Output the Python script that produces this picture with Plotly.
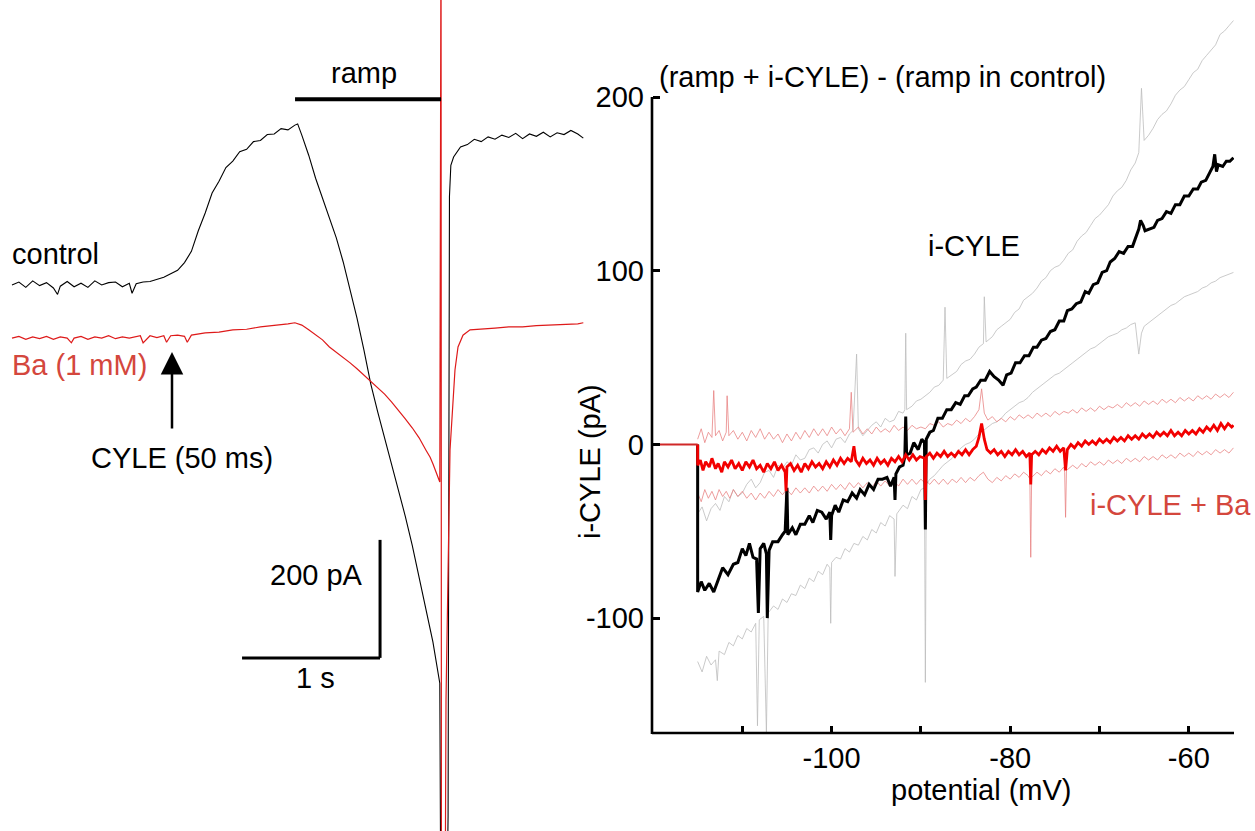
import plotly.graph_objects as go

W, H = 1255, 831
FONT = "Liberation Sans, Arial, Helvetica, sans-serif"
FS = 29
SALMON = "#d4473d"

# ---------------- left panel: membrane current traces (time s, current pA) ----------------
CONTROL_T = [0.00, 0.05, 0.10, 0.15, 0.20, 0.25, 0.30, 0.33, 0.35, 0.40, 0.45, 0.50, 0.55, 0.60,
             0.65, 0.70, 0.75, 0.80, 0.85, 0.87, 0.90, 0.95, 1.00, 1.05, 1.10, 1.15, 1.20, 1.25,
             1.30, 1.35, 1.40, 1.45, 1.50, 1.55, 1.60, 1.65, 1.70, 1.75, 1.80, 1.85, 1.90, 1.95,
             2.00, 2.05, 2.07, 2.10, 2.15, 2.20, 2.25, 2.30, 2.35, 2.40, 2.45, 2.50, 2.55, 2.60,
             2.65, 2.70, 2.75, 2.80, 2.85, 2.90, 2.95, 3.00, 3.05, 3.10, 3.11, 3.155, 3.16, 3.17,
             3.18, 3.20, 3.25, 3.30, 3.35, 3.40, 3.45, 3.50, 3.55, 3.60, 3.65, 3.70, 3.75, 3.80,
             3.85, 3.90, 3.95, 4.00, 4.05, 4.10, 4.14]
CONTROL_I = [0, 5, -4, 7, -1, 4, -5, -16, -2, 6, -3, 3, -4, 7,
             0, 4, 5, -3, 3, -14, 2, 5, 6, 10, 13, 19, 25, 38,
             57, 92, 122, 156, 176, 199, 210, 226, 230, 243, 245, 255, 256, 265,
             263, 271, 273, 254, 220, 181, 147, 115, 80, 39, -8, -56, -110, -168,
             -215, -259, -303, -347, -392, -441, -497, -547, -605, -675, -1200, -1000, -900, 150,
             203, 217, 234, 238, 247, 243, 251, 247, 254, 250, 257, 248, 256, 252,
             259, 251, 258, 255, 262, 256, 249]

BA_T = [0.00, 0.05, 0.10, 0.15, 0.20, 0.25, 0.30, 0.35, 0.40, 0.43, 0.45, 0.50, 0.55, 0.60,
        0.65, 0.70, 0.75, 0.80, 0.85, 0.93, 0.95, 1.00, 1.05, 1.10, 1.12, 1.15, 1.20, 1.25,
        1.27, 1.30, 1.40, 1.50, 1.60, 1.70, 1.80, 1.90, 2.00, 2.05, 2.10, 2.15, 2.20, 2.25,
        2.30, 2.35, 2.40, 2.45, 2.50, 2.55, 2.60, 2.65, 2.70, 2.75, 2.80, 2.85, 2.90, 2.95,
        3.00, 3.03, 3.05, 3.08, 3.10, 3.109, 3.112, 3.138, 3.145, 3.174, 3.21, 3.232, 3.268,
        3.319, 3.40, 3.50, 3.60, 3.70, 3.80, 3.90, 4.00, 4.10, 4.14]
BA_I = [-90, -87, -92, -88, -91, -87, -92, -88, -90, -98, -90, -87, -92, -88,
        -90, -86, -91, -88, -90, -86, -98, -86, -89, -86, -97, -86, -85, -87,
        -97, -85, -81, -80, -76, -75, -71, -69, -66, -64, -68, -76, -85, -93,
        -105, -114, -122, -132, -142, -153, -163, -175, -185, -198, -212, -227, -242, -259,
        -280, -292, -303, -320, -334, 650, -1100, -1100, -703, -280, -144, -105, -85,
        -76, -75, -73, -71, -71, -69, -68, -68, -66, -64]

# ---------------- right panel: I-V relations (potential mV, current pA) ----------------
POT_TICKS = [-110, -100, -90, -80, -70, -60]
POT_TICK_LABELS = ["", "-100", "", "-80", "", "-60"]
CUR_TICKS = [-100, 0, 100, 200]
CUR_TICK_LABELS = ["-100", "0", "100", "200"]

HOLD = [(-120.0, 0), (-115.0, 0)]

ICYLE_MEAN = [
    (-115.0, 0), (-115.0, -85), (-114.6, -79), (-114.2, -84), (-113.7, -80), (-113.2, -85),
    (-112.7, -78), (-112.2, -71), (-111.6, -75), (-111.0, -69), (-110.5, -68), (-110.0, -60),
    (-109.6, -64), (-109.2, -57), (-108.8, -65), (-108.4, -66), (-108.2, -97), (-108.0, -60),
    (-107.6, -57), (-107.3, -63), (-107.2, -100), (-107.0, -61), (-106.6, -56), (-106.0, -56),
    (-105.5, -52), (-105.2, -50), (-105.0, -25), (-104.9, -52), (-104.4, -48), (-104.0, -52),
    (-103.5, -46), (-103.0, -46), (-102.5, -41), (-102.1, -45), (-101.6, -38), (-101.1, -39),
    (-100.6, -43), (-100.2, -39), (-100.1, -55), (-100.0, -41), (-99.6, -35), (-99.2, -39),
    (-98.7, -32), (-98.2, -33), (-97.7, -28), (-97.2, -31), (-96.8, -26), (-96.3, -29),
    (-95.8, -23), (-95.3, -26), (-94.8, -20), (-94.3, -20), (-93.8, -19), (-93.4, -24),
    (-93.0, -19), (-92.9, -32), (-92.8, -17), (-92.4, -13), (-92.0, -12), (-91.8, -7),
    (-91.7, 16), (-91.6, -6), (-91.2, -5), (-90.8, 1), (-90.3, -3), (-89.9, 3), (-89.6, 1),
    (-89.5, -49), (-89.4, 3), (-89.0, 7), (-88.6, 8), (-88.1, 15), (-87.6, 15), (-87.1, 20),
    (-86.6, 20), (-86.1, 24), (-85.6, 23), (-85.1, 28), (-84.7, 28), (-84.2, 32), (-83.8, 33),
    (-83.3, 37), (-82.8, 37), (-82.3, 42), (-81.8, 39), (-81.3, 37), (-80.8, 34), (-80.4, 40),
    (-79.9, 41), (-79.4, 47), (-78.9, 47), (-78.4, 51), (-77.9, 51), (-77.4, 56), (-77.0, 56),
    (-76.5, 60), (-76.0, 61), (-75.5, 65), (-75.0, 66), (-74.5, 71), (-74.0, 71), (-73.6, 77),
    (-73.1, 78), (-72.6, 81), (-72.1, 82), (-71.6, 88), (-71.2, 87), (-70.7, 92), (-70.2, 93),
    (-69.7, 99), (-69.2, 100), (-68.8, 105), (-68.3, 107), (-67.8, 111), (-67.3, 110),
    (-66.8, 114), (-66.3, 114), (-65.9, 120), (-65.6, 124), (-65.4, 129), (-65.1, 126),
    (-64.9, 123), (-64.4, 124), (-63.9, 125), (-63.5, 129), (-63.0, 130), (-62.5, 134),
    (-62.0, 133), (-61.5, 138), (-61.0, 138), (-60.5, 143), (-60.0, 143), (-59.5, 147),
    (-59.0, 147), (-58.6, 151), (-58.1, 152), (-57.6, 157), (-57.3, 160), (-57.1, 167),
    (-56.9, 157), (-56.7, 161), (-56.2, 160), (-55.8, 163), (-55.4, 163), (-55.0, 165)]

ICYLE_UPPER = [
    (-115.0, -40), (-114.5, -36), (-114.0, -44), (-113.5, -37), (-113.0, -34), (-112.5, -38),
    (-112.0, -30), (-111.5, -33), (-111.0, -26), (-110.5, -30), (-110.0, -28), (-109.5, -23),
    (-109.0, -20), (-108.5, -25), (-108.0, -22), (-107.5, -16), (-107.0, -15), (-106.5, -19),
    (-106.0, -12), (-105.5, -14), (-105.0, -10), (-104.5, -12), (-104.0, -6), (-103.5, -9),
    (-103.0, -8), (-102.5, -3), (-102.0, -2), (-101.5, -5), (-101.0, 0), (-100.5, 2),
    (-100.0, -2), (-99.5, 3), (-99.0, 4), (-98.5, 1), (-98.0, 6), (-97.6, 8), (-97.2, 52),
    (-97.0, 9), (-96.5, 5), (-96.0, 8), (-95.5, 11), (-95.0, 13), (-94.5, 10), (-94.0, 15),
    (-93.5, 13), (-93.0, 14), (-92.5, 19), (-92.0, 18), (-91.8, 20), (-91.7, 64), (-91.6, 20),
    (-91.0, 22), (-90.5, 25), (-90.0, 26), (-89.5, 28), (-89.0, 30), (-88.5, 33), (-88.0, 34),
    (-87.5, 37), (-87.3, 79), (-87.1, 38), (-86.5, 40), (-86.0, 42), (-85.5, 46), (-85.0, 48),
    (-84.5, 49), (-84.0, 52), (-83.5, 56), (-83.0, 58), (-82.9, 85), (-82.7, 59), (-82.0, 62),
    (-81.5, 66), (-81.0, 68), (-80.5, 70), (-80.0, 72), (-79.5, 76), (-79.0, 78), (-78.5, 83),
    (-78.0, 85), (-77.5, 87), (-77.0, 90), (-76.5, 94), (-76.0, 96), (-75.5, 100), (-75.0, 102),
    (-74.5, 103), (-74.0, 106), (-73.5, 110), (-73.0, 112), (-72.5, 117), (-72.0, 120),
    (-71.5, 122), (-71.0, 126), (-70.5, 130), (-70.0, 132), (-69.5, 135), (-69.0, 138),
    (-68.5, 143), (-68.0, 146), (-67.5, 148), (-67.0, 152), (-66.5, 158), (-66.0, 162),
    (-65.6, 168), (-65.3, 205), (-65.0, 175), (-64.5, 178), (-64.0, 182), (-63.5, 187),
    (-63.0, 190), (-62.5, 192), (-62.0, 196), (-61.5, 201), (-61.0, 204), (-60.5, 206),
    (-60.0, 210), (-59.5, 214), (-59.0, 216), (-58.5, 221), (-58.0, 224), (-57.5, 227),
    (-57.0, 230), (-56.5, 236), (-56.0, 238), (-55.5, 241), (-55.0, 244)]

ICYLE_LOWER = [
    (-115.0, -125), (-114.5, -131), (-114.0, -122), (-113.5, -127), (-113.0, -124), (-112.8, -136),
    (-112.6, -119), (-112.0, -121), (-111.5, -114), (-111.0, -116), (-110.5, -110), (-110.0, -112),
    (-109.5, -106), (-109.0, -108), (-108.5, -103), (-108.3, -162), (-108.1, -101), (-107.6, -99),
    (-107.3, -166), (-107.1, -97), (-106.5, -93), (-106.0, -95), (-105.5, -89), (-105.0, -91),
    (-104.5, -86), (-104.0, -87), (-103.5, -81), (-103.0, -83), (-102.5, -77), (-102.0, -79),
    (-101.5, -73), (-101.0, -75), (-100.5, -69), (-100.2, -71), (-100.1, -103), (-100.0, -68),
    (-99.5, -65), (-99.0, -66), (-98.5, -60), (-98.0, -62), (-97.5, -57), (-97.0, -58),
    (-96.5, -53), (-96.0, -55), (-95.5, -49), (-95.0, -51), (-94.5, -45), (-94.0, -47),
    (-93.5, -41), (-93.0, -43), (-92.9, -76), (-92.7, -40), (-92.0, -35), (-91.5, -37),
    (-91.0, -30), (-90.5, -32), (-90.0, -26), (-89.6, -25), (-89.5, -137), (-89.4, -23),
    (-89.0, -20), (-88.5, -18), (-88.0, -15), (-87.5, -12), (-87.0, -10), (-86.5, -8),
    (-86.0, -5), (-85.5, -2), (-85.0, 0), (-84.5, 1), (-84.0, 3), (-83.5, 6), (-83.0, 8),
    (-82.5, 10), (-82.0, 12), (-81.5, 13), (-81.0, 15), (-80.5, 18), (-80.0, 20), (-79.5, 22),
    (-79.0, 24), (-78.5, 25), (-78.0, 27), (-77.5, 30), (-77.0, 32), (-76.5, 34), (-76.0, 36),
    (-75.5, 38), (-75.0, 40), (-74.5, 41), (-74.0, 43), (-73.5, 45), (-73.0, 47), (-72.5, 49),
    (-72.0, 51), (-71.5, 53), (-71.0, 55), (-70.5, 56), (-70.0, 58), (-69.5, 60), (-69.0, 62),
    (-68.5, 63), (-68.0, 64), (-67.5, 66), (-67.0, 67), (-66.5, 69), (-66.0, 70), (-65.6, 52),
    (-65.3, 64), (-65.0, 68), (-64.5, 70), (-64.0, 72), (-63.5, 74), (-63.0, 76), (-62.5, 78),
    (-62.0, 80), (-61.5, 81), (-61.0, 83), (-60.5, 85), (-60.0, 86), (-59.5, 87), (-59.0, 88),
    (-58.5, 90), (-58.0, 91), (-57.5, 93), (-57.0, 94), (-56.5, 96), (-56.0, 97), (-55.5, 98),
    (-55.0, 99)]

BA_MEAN = [
    (-115.0, 0), (-115.0, -12), (-114.7, -9), (-114.4, -15), (-114.1, -10), (-113.7, -13),
    (-113.4, -8), (-113.0, -14), (-112.7, -11), (-112.3, -16), (-112.0, -10), (-111.6, -13),
    (-111.2, -9), (-110.8, -14), (-110.4, -11), (-110.0, -15), (-109.6, -10), (-109.2, -13),
    (-108.8, -9), (-108.4, -14), (-108.0, -12), (-107.6, -16), (-107.2, -11), (-106.8, -14),
    (-106.4, -10), (-106.0, -15), (-105.6, -12), (-105.2, -16), (-105.1, -27), (-105.0, -13),
    (-104.6, -11), (-104.2, -15), (-103.8, -12), (-103.4, -16), (-103.0, -11), (-102.6, -14),
    (-102.2, -10), (-101.8, -13), (-101.4, -11), (-101.0, -14), (-100.6, -10), (-100.2, -13),
    (-99.8, -9), (-99.4, -12), (-99.0, -8), (-98.6, -11), (-98.2, -8), (-97.8, -10),
    (-97.5, -1), (-97.3, -9), (-96.9, -12), (-96.5, -8), (-96.1, -11), (-95.7, -9),
    (-95.3, -12), (-94.9, -8), (-94.5, -11), (-94.1, -9), (-93.7, -12), (-93.3, -8),
    (-92.9, -10), (-92.5, -7), (-92.1, -10), (-91.7, -6), (-91.3, -9), (-90.9, -6),
    (-90.5, -9), (-90.1, -7), (-89.6, -8), (-89.5, -32), (-89.4, -7), (-89.0, -5),
    (-88.6, -8), (-88.2, -5), (-87.8, -7), (-87.4, -4), (-87.0, -7), (-86.6, -5),
    (-86.2, -7), (-85.8, -4), (-85.4, -6), (-85.0, -3), (-84.6, -6), (-84.2, -3),
    (-83.8, -1), (-83.5, 4), (-83.2, 12), (-82.9, 3), (-82.6, -3), (-82.2, -5),
    (-81.8, -3), (-81.4, -6), (-81.0, -4), (-80.6, -7), (-80.2, -4), (-79.8, -6),
    (-79.4, -3), (-79.0, -6), (-78.6, -4), (-78.2, -7), (-77.8, -5), (-77.7, -23),
    (-77.6, -6), (-77.2, -4), (-76.8, -6), (-76.4, -3), (-76.0, -5), (-75.6, -2),
    (-75.2, -4), (-74.8, -1), (-74.4, -4), (-74.0, -2), (-73.8, -15), (-73.6, -3),
    (-73.2, 0), (-72.8, -2), (-72.4, 1), (-72.0, -1), (-71.6, 2), (-71.2, 0),
    (-70.8, 2), (-70.4, 0), (-70.0, 3), (-69.6, 1), (-69.2, 3), (-68.8, 1),
    (-68.4, 4), (-68.0, 2), (-67.6, 4), (-67.2, 2), (-66.8, 5), (-66.4, 3),
    (-66.0, 5), (-65.6, 3), (-65.2, 6), (-64.8, 4), (-64.4, 6), (-64.0, 4),
    (-63.6, 7), (-63.2, 5), (-62.8, 7), (-62.4, 5), (-62.0, 8), (-61.6, 5),
    (-61.2, 7), (-60.8, 5), (-60.4, 8), (-60.0, 6), (-59.6, 8), (-59.2, 6),
    (-58.8, 9), (-58.4, 7), (-58.0, 10), (-57.6, 8), (-57.2, 11), (-56.8, 8),
    (-56.4, 12), (-56.0, 9), (-55.6, 12), (-55.2, 10), (-55.0, 11)]

BA_UPPER = [
    (-115.0, 3), (-114.6, 9), (-114.2, 1), (-113.8, 7), (-113.4, 4), (-113.2, 31), (-113.0, 5),
    (-112.6, 8), (-112.2, 2), (-111.8, 7), (-111.7, 28), (-111.5, 5), (-111.0, 8), (-110.5, 3),
    (-110.0, 7), (-109.5, 2), (-109.0, 8), (-108.5, 4), (-108.0, 9), (-107.5, 3), (-107.0, 7),
    (-106.5, 3), (-106.0, 6), (-105.5, 1), (-105.0, 6), (-104.5, 2), (-104.0, 7), (-103.5, 3),
    (-103.0, 8), (-102.5, 4), (-102.0, 9), (-101.5, 5), (-101.0, 9), (-100.5, 5), (-100.0, 10),
    (-99.5, 6), (-99.0, 9), (-98.5, 5), (-98.0, 9), (-97.8, 30), (-97.6, 7), (-97.0, 10),
    (-96.5, 6), (-96.0, 9), (-95.5, 6), (-95.0, 10), (-94.5, 7), (-94.0, 9), (-93.5, 7),
    (-93.0, 11), (-92.5, 8), (-92.0, 10), (-91.5, 8), (-91.0, 11), (-90.5, 9), (-90.0, 10),
    (-89.5, 9), (-89.0, 12), (-88.5, 11), (-88.0, 13), (-87.5, 10), (-87.0, 12), (-86.5, 11),
    (-86.0, 14), (-85.5, 12), (-85.0, 15), (-84.5, 13), (-84.0, 16), (-83.5, 20), (-83.2, 32),
    (-82.9, 18), (-82.5, 14), (-82.0, 16), (-81.5, 13), (-81.0, 15), (-80.5, 13), (-80.0, 16),
    (-79.5, 14), (-79.0, 17), (-78.5, 15), (-78.0, 17), (-77.5, 15), (-77.0, 18), (-76.5, 16),
    (-76.0, 18), (-75.5, 16), (-75.0, 19), (-74.5, 17), (-74.0, 19), (-73.5, 18), (-73.0, 20),
    (-72.5, 18), (-72.0, 21), (-71.5, 19), (-71.0, 21), (-70.5, 19), (-70.0, 22), (-69.5, 20),
    (-69.0, 22), (-68.5, 21), (-68.0, 23), (-67.5, 21), (-67.0, 24), (-66.5, 22), (-66.0, 24),
    (-65.5, 22), (-65.0, 25), (-64.5, 23), (-64.0, 25), (-63.5, 23), (-63.0, 26), (-62.5, 24),
    (-62.0, 26), (-61.5, 24), (-61.0, 27), (-60.5, 25), (-60.0, 27), (-59.5, 25), (-59.0, 28),
    (-58.5, 26), (-58.0, 28), (-57.5, 26), (-57.0, 29), (-56.5, 27), (-56.0, 29), (-55.5, 27),
    (-55.0, 30)]

BA_LOWER = [
    (-115.0, -28), (-114.6, -33), (-114.2, -26), (-113.8, -31), (-113.4, -27), (-113.0, -32),
    (-112.6, -26), (-112.2, -30), (-111.8, -27), (-111.4, -31), (-111.0, -26), (-110.5, -30),
    (-110.0, -27), (-109.5, -31), (-109.0, -28), (-108.5, -32), (-108.0, -28), (-107.5, -31),
    (-107.0, -27), (-106.5, -30), (-106.0, -26), (-105.5, -29), (-105.2, -27), (-105.1, -42),
    (-105.0, -26), (-104.5, -29), (-104.0, -25), (-103.5, -28), (-103.0, -25), (-102.5, -28),
    (-102.0, -24), (-101.5, -27), (-101.0, -24), (-100.5, -27), (-100.0, -23), (-99.5, -26),
    (-99.0, -23), (-98.5, -26), (-98.0, -22), (-97.5, -25), (-97.0, -22), (-96.5, -25),
    (-96.0, -22), (-95.5, -25), (-95.0, -21), (-94.5, -24), (-94.0, -21), (-93.5, -24),
    (-93.0, -21), (-92.5, -24), (-92.0, -20), (-91.5, -23), (-91.0, -20), (-90.5, -23),
    (-90.0, -20), (-89.6, -22), (-89.5, -40), (-89.4, -21), (-89.0, -23), (-88.5, -20),
    (-88.0, -23), (-87.5, -20), (-87.0, -23), (-86.5, -20), (-86.0, -22), (-85.5, -19),
    (-85.0, -22), (-84.5, -19), (-84.0, -21), (-83.5, -18), (-83.0, -16), (-82.5, -20),
    (-82.0, -22), (-81.5, -19), (-81.0, -21), (-80.5, -18), (-80.0, -20), (-79.5, -17),
    (-79.0, -19), (-78.5, -16), (-78.0, -18), (-77.8, -20), (-77.7, -65), (-77.6, -19),
    (-77.0, -16), (-76.5, -18), (-76.0, -15), (-75.5, -17), (-75.0, -14), (-74.5, -16),
    (-74.0, -13), (-73.9, -16), (-73.8, -42), (-73.7, -15), (-73.0, -12), (-72.5, -14),
    (-72.0, -11), (-71.5, -13), (-71.0, -10), (-70.5, -12), (-70.0, -10), (-69.5, -12),
    (-69.0, -9), (-68.5, -11), (-68.0, -9), (-67.5, -11), (-67.0, -8), (-66.5, -10),
    (-66.0, -8), (-65.5, -10), (-65.0, -7), (-64.5, -9), (-64.0, -7), (-63.5, -9),
    (-63.0, -6), (-62.5, -8), (-62.0, -6), (-61.5, -8), (-61.0, -5), (-60.5, -7),
    (-60.0, -5), (-59.5, -7), (-59.0, -4), (-58.5, -6), (-58.0, -4), (-57.5, -6),
    (-57.0, -3), (-56.5, -5), (-56.0, -3), (-55.5, -5), (-55.0, -2)]


def xs(pairs):
    return [p[0] for p in pairs]


def ys(pairs):
    return [p[1] for p in pairs]


# ---------------- geometry (pixel layout) ----------------
PX_PER_S = 138.0          # 1 s scale bar length
PX_PER_PA = 118.0 / 200   # 200 pA scale bar length
T0_PX, I0_PY = 12.0, 285.0
LEFT_W = 0.48 * W
L_XR = [(0 - T0_PX) / PX_PER_S, (LEFT_W - T0_PX) / PX_PER_S]
L_YR = [(I0_PY - H) / PX_PER_PA, I0_PY / PX_PER_PA]

AX_L, AX_R, AX_B, AX_T = 653.0, 1234.0, 733.0, 97.0
V_PER_PX = 10 / 89.3
PA_PER_PX = 100 / 173.7
R_XR = [-120.0, -120.0 + (AX_R - AX_L) * V_PER_PX]
R_YR = [200 - (AX_B - AX_T) * PA_PER_PX, 200 + AX_T * PA_PER_PX]


def PX(x):
    return x / W


def PY(y):
    return 1 - y / H


fig = go.Figure()

# right-panel traces
thin_gray = dict(color="#bdbdbd", width=0.8)
thin_red = dict(color="#e88484", width=0.8)
for data, ln in [(ICYLE_UPPER, thin_gray), (ICYLE_LOWER, thin_gray),
                 (BA_UPPER, thin_red), (BA_LOWER, thin_red)]:
    fig.add_trace(go.Scatter(x=xs(data), y=ys(data), mode="lines", line=ln,
                             hoverinfo="skip", xaxis="x", yaxis="y"))
fig.add_trace(go.Scatter(x=xs(ICYLE_MEAN), y=ys(ICYLE_MEAN), mode="lines",
                         line=dict(color="black", width=3), hoverinfo="skip"))
fig.add_trace(go.Scatter(x=xs(BA_MEAN), y=ys(BA_MEAN), mode="lines",
                         line=dict(color="#f20000", width=2.8), hoverinfo="skip"))
fig.add_trace(go.Scatter(x=xs(HOLD), y=ys(HOLD), mode="lines",
                         line=dict(color="#d02828", width=2), hoverinfo="skip"))

# left-panel traces
fig.add_trace(go.Scatter(x=CONTROL_T, y=CONTROL_I, mode="lines", xaxis="x2", yaxis="y2",
                         line=dict(color="black", width=1.1), hoverinfo="skip"))
fig.add_trace(go.Scatter(x=BA_T, y=BA_I, mode="lines", xaxis="x2", yaxis="y2",
                         line=dict(color="#de1a1a", width=1.2), hoverinfo="skip"))

tickfont = dict(family=FONT, size=FS, color="black")
fig.update_layout(
    width=W, height=H, margin=dict(l=0, r=0, t=0, b=0),
    paper_bgcolor="white", plot_bgcolor="rgba(0,0,0,0)", showlegend=False,
    font=dict(family=FONT, size=FS, color="black"),
    xaxis=dict(domain=[PX(AX_L), PX(AX_R)], range=R_XR, anchor="y", showline=False,
               showgrid=False, zeroline=False, ticks="inside", ticklen=7, tickwidth=2.5,
               tickcolor="black", tickvals=POT_TICKS, ticktext=POT_TICK_LABELS,
               tickfont=tickfont, ticklabelstandoff=5),
    yaxis=dict(domain=[PY(AX_B), 1.0], range=R_YR, anchor="x", showline=False,
               showgrid=False, zeroline=False, ticks="inside", ticklen=7, tickwidth=2.5,
               tickcolor="black", tickvals=CUR_TICKS, ticktext=CUR_TICK_LABELS,
               tickfont=tickfont, ticklabelstandoff=8),
    xaxis2=dict(domain=[0, 0.48], range=L_XR, anchor="y2", visible=False),
    yaxis2=dict(domain=[0, 1], range=L_YR, anchor="x2", visible=False),
)

shapes = [
    # right panel axis lines
    dict(type="line", xref="paper", yref="paper", x0=PX(AX_L - 1), x1=PX(AX_R),
         y0=PY(AX_B), y1=PY(AX_B), line=dict(color="black", width=2.6)),
    dict(type="line", xref="paper", yref="paper", x0=PX(AX_L - 1), x1=PX(AX_L - 1),
         y0=PY(AX_B + 1), y1=PY(AX_T), line=dict(color="black", width=2.6)),
    # ramp bar
    dict(type="line", xref="x2", yref="y2", x0=2.051, x1=3.109, y0=315, y1=315,
         line=dict(color="black", width=4)),
    # scale bars: 1 s and 200 pA
    dict(type="line", xref="x2", yref="y2", x0=1.667, x1=2.667, y0=-632, y1=-632,
         line=dict(color="black", width=3)),
    dict(type="line", xref="x2", yref="y2", x0=2.667, x1=2.667, y0=-632, y1=-432,
         line=dict(color="black", width=3)),
]
fig.update_layout(shapes=shapes)


def ann(text, px, py, xanchor="center", color="black", size=FS, angle=0):
    return dict(text=text, x=PX(px), y=PY(py), xref="paper", yref="paper",
                xanchor=xanchor, yanchor="middle", showarrow=False, textangle=angle,
                font=dict(family=FONT, size=size, color=color))


annotations = [
    ann("(ramp + i-CYLE) - (ramp in control)", 657, 77, xanchor="left"),
    ann("i-CYLE", 974, 246),
    ann("i-CYLE + Ba", 1253, 505, xanchor="right", color=SALMON),
    ann("i-CYLE (pA)", 590, 462, angle=-90),
    ann("potential (mV)", 981, 790),
    ann("ramp", 364, 73),
    ann("control", 10, 254, xanchor="left"),
    ann("Ba (1 mM)", 10, 365, xanchor="left", color=SALMON),
    ann("CYLE (50 ms)", 182, 458),
    ann("200 pA", 365, 575, xanchor="right"),
    ann("1 s", 315, 678),
    dict(text="", x=PX(172), y=PY(352), xref="paper", yref="paper", showarrow=True,
         ax=0, ay=78, arrowhead=2, arrowsize=1.8, arrowwidth=2.5, arrowcolor="black",
         standoff=0),
]
fig.update_layout(annotations=annotations)

fig.write_html("out.html",
               config={"displayModeBar": False},
               post_script="document.body.style.margin='0px';"
                           "document.body.style.overflow='hidden';")
